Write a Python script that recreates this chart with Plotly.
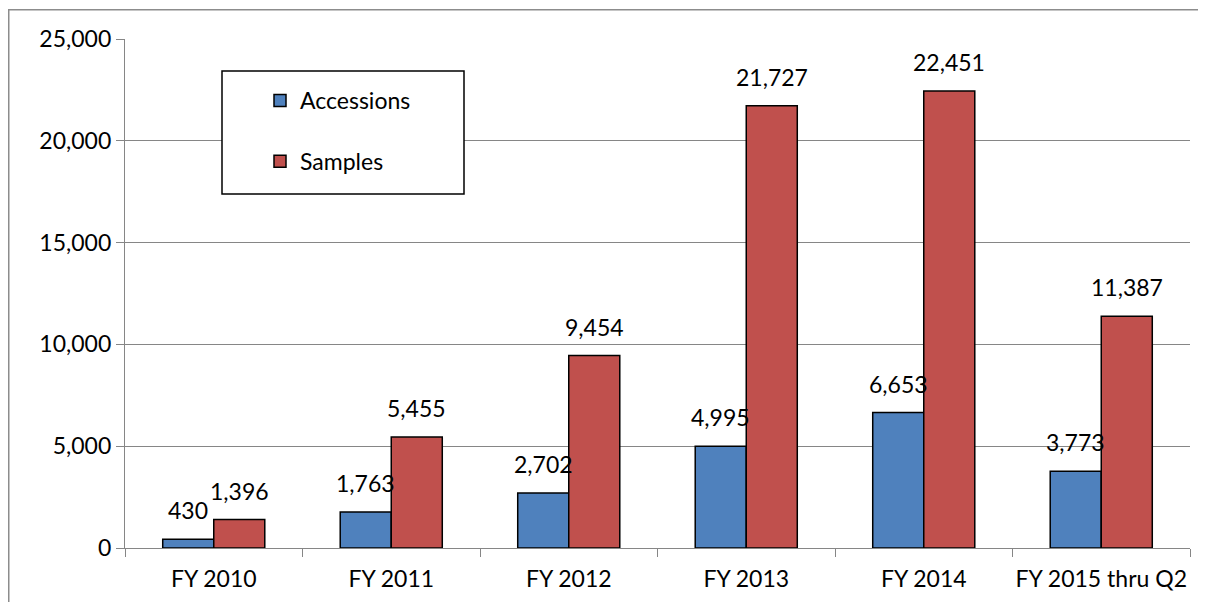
import plotly.graph_objects as go

categories = ["FY 2010", "FY 2011", "FY 2012", "FY 2013", "FY 2014", "FY 2015 thru Q2"]
accessions = [430, 1763, 2702, 4995, 6653, 3773]
samples = [1396, 5455, 9454, 21727, 22451, 11387]
y_ticks = [0, 5000, 10000, 15000, 20000, 25000]

FONT = "Lato"
FS = 23
GRAY = "#868686"

fig = go.Figure()
fig.add_trace(go.Bar(
    name="Accessions", x=categories, y=accessions, legendgroup="a",
    marker=dict(color="#4F81BD", line=dict(color="black", width=1.5)),
))
fig.add_trace(go.Bar(
    name="Samples", x=categories, y=samples, legendgroup="b",
    marker=dict(color="#C0504D", line=dict(color="black", width=1.5)),
))

# page has an 8px body margin: figure is drawn at (8, 8)
W, H = 1190, 594
L, R, T, B = 117, 8, 31, 54
pw, ph = W - L - R, H - T - B

def px(X):  # reference-page pixel -> paper x
    return (X - 8 - L) / pw

def py(Y):  # reference-page pixel -> paper y
    return (H - B - (Y - 8)) / ph

annotations = []
half = 25.6
for cat, a, s in zip(categories, accessions, samples):
    annotations.append(dict(x=cat, y=a, xref="x", yref="y", text=f"{a:,}", showarrow=False,
                            xshift=-half, yshift=13, yanchor="bottom", xanchor="center",
                            font=dict(family=FONT, size=FS, color="black")))
    annotations.append(dict(x=cat, y=s, xref="x", yref="y", text=f"{s:,}", showarrow=False,
                            xshift=half, yshift=13, yanchor="bottom", xanchor="center",
                            font=dict(family=FONT, size=FS, color="black")))

shapes = [
    dict(type="rect", xref="paper", yref="paper", x0=px(222), x1=px(464), y0=py(194), y1=py(71),
         fillcolor="white", line=dict(color="black", width=1.5), layer="above"),
    dict(type="line", xref="paper", yref="paper", x0=px(8.75), x1=px(8.75), y0=py(9), y1=py(640),
         line=dict(color="#8c8c8c", width=1.5)),
    dict(type="line", xref="paper", yref="paper", x0=px(8), x1=px(1240), y0=py(9.75), y1=py(9.75),
         line=dict(color="#8c8c8c", width=1.5)),
]

fig.update_layout(
    width=W, height=H,
    margin=dict(l=L, r=R, t=T, b=B, autoexpand=False),
    paper_bgcolor="white", plot_bgcolor="white",
    barmode="group", bargap=0.425, bargroupgap=0,
    font=dict(family=FONT, size=FS, color="black"),
    showlegend=True,
    legend=dict(x=px(260), y=py(79), xanchor="left", yanchor="top",
                bgcolor="rgba(0,0,0,0)", borderwidth=0,
                traceorder="grouped", tracegroupgap=28,
                font=dict(family=FONT, size=FS, color="black"),
                itemwidth=30),
    shapes=shapes,
    annotations=annotations,
    xaxis=dict(showgrid=False, showline=True, linecolor=GRAY, linewidth=1.25,
               ticks="outside", tickson="boundaries", ticklen=8, tickcolor=GRAY, tickwidth=1.25,
               tickangle=0, ticklabelstandoff=10,
               tickfont=dict(family=FONT, size=FS, color="black")),
    yaxis=dict(range=[0, 25000], tickvals=y_ticks, tickformat=",",
               showgrid=True, gridcolor=GRAY, gridwidth=1.25,
               showline=True, linecolor=GRAY, linewidth=1.25,
               ticks="outside", ticklen=8, tickcolor=GRAY, tickwidth=1.25,
               zeroline=False,
               tickfont=dict(family=FONT, size=FS, color="black")),
)

fig.write_html("out.html")
